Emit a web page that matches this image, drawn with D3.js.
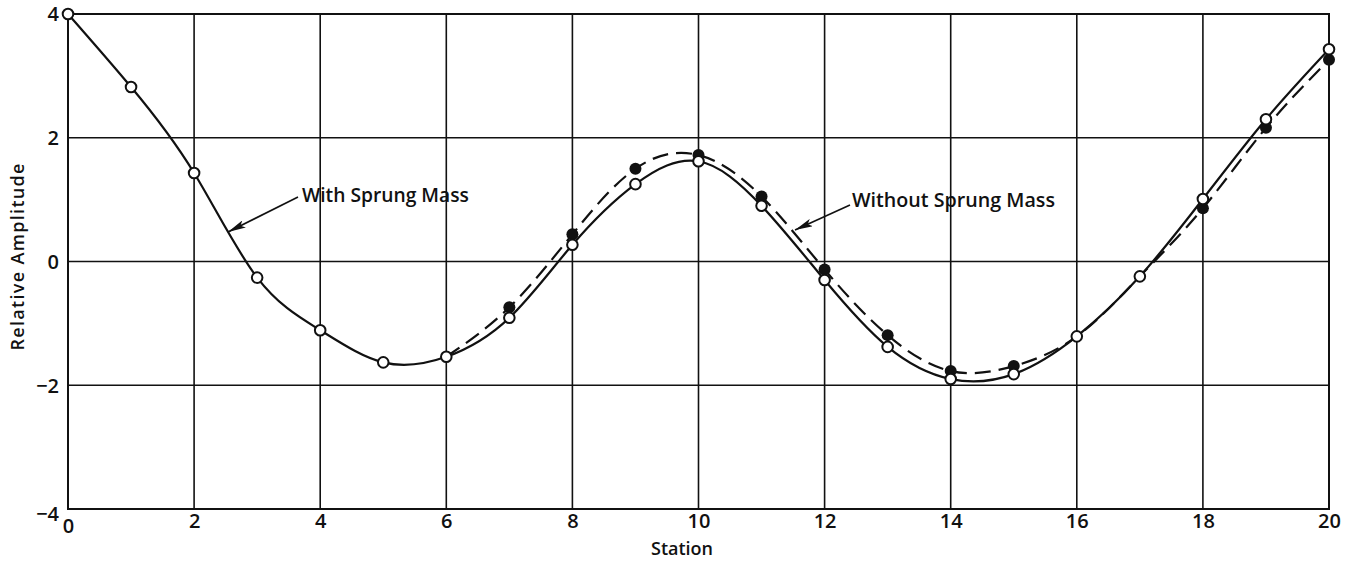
<!DOCTYPE html>
<html>
<head>
<meta charset="utf-8">
<script src="https://cdn.jsdelivr.net/npm/d3@7"></script>
<style>
  html, body { margin: 0; padding: 0; background: #fff; }
  svg { display: block; }
  text { font-family: "Open Sans", "DejaVu Sans", sans-serif; font-weight: 600; fill: #111; }
</style>
</head>
<body>
<svg id="chart" width="1359" height="563"></svg>
<script>
// Station numbers along the beam
const stations = [0, 1, 2, 3, 4, 5, 6, 7, 8, 9, 10, 11, 12, 13, 14, 15, 16, 17, 18, 19, 20];

// Relative amplitude with sprung mass (open circles, solid curve)
const withSprung = [4.0, 2.82, 1.43, -0.26, -1.11, -1.63, -1.54, -0.91, 0.27, 1.25, 1.62,
                    0.9, -0.3, -1.38, -1.9, -1.82, -1.21, -0.24, 1.01, 2.3, 3.43];

// Relative amplitude without sprung mass (filled circles, dashed curve)
const withoutStations = [7, 8, 9, 10, 11, 12, 13, 14, 15, 18, 19, 20];
const withoutSprung = [-0.74, 0.44, 1.5, 1.72, 1.05, -0.13, -1.19, -1.77, -1.69, 0.86, 2.16, 3.26];

const xTicks = [0, 2, 4, 6, 8, 10, 12, 14, 16, 18, 20];
const yTicks = [-4, -2, 0, 2, 4];

const svg = d3.select("#chart");
const plotL = 68, plotR = 1329, plotT = 14, plotB = 509;

const x = d3.scaleLinear().domain([0, 20]).range([plotL, plotR]);
const y = d3.scaleLinear().domain([-4, 4]).range([plotB, plotT]);

// Grid lines
const grid = svg.append("g").attr("stroke", "#111").attr("stroke-width", 1.6);
grid.selectAll(".vx").data(xTicks).join("line")
  .attr("x1", d => x(d)).attr("x2", d => x(d))
  .attr("y1", plotT).attr("y2", plotB);
grid.selectAll(".hy").data(yTicks).join("line")
  .attr("x1", plotL).attr("x2", plotR)
  .attr("y1", d => y(d)).attr("y2", d => y(d));
svg.append("rect")
  .attr("x", plotL).attr("y", plotT)
  .attr("width", plotR - plotL).attr("height", plotB - plotT)
  .attr("fill", "none").attr("stroke", "#111").attr("stroke-width", 2);

// Tick labels via axes
const xAxis = svg.append("g")
  .attr("transform", `translate(0,${plotB})`)
  .call(d3.axisBottom(x).tickValues(xTicks).tickSize(0).tickPadding(5).tickFormat(d3.format("d")));
xAxis.select(".domain").remove();
xAxis.selectAll("text").style("font-size", "20px").attr("fill", "#111")
  .attr("dy", d => d === 0 ? "0.95em" : "0.71em");

const yAxis = svg.append("g")
  .attr("transform", `translate(${plotL},0)`)
  .call(d3.axisLeft(y).tickValues(yTicks).tickSize(0).tickPadding(9).tickFormat(d3.format("d")));
yAxis.select(".domain").remove();
yAxis.selectAll("text").style("font-size", "20px").attr("fill", "#111")
  .attr("dy", d => d === -4 ? "0.55em" : "0.34em");

// Axis titles
svg.append("text")
  .attr("x", 682).attr("y", 555)
  .attr("text-anchor", "middle")
  .style("font-size", "18px")
  .text("Station");
svg.append("text")
  .attr("transform", "translate(24,257) rotate(-90)")
  .attr("text-anchor", "middle")
  .style("font-size", "18px")
  .attr("textLength", 187)
  .text("Relative Amplitude");

// Curves
const line = d3.line()
  .x(d => x(d[0])).y(d => y(d[1]))
  .curve(d3.curveNatural);

const solidPts = stations.map((s, i) => [s, withSprung[i]]);
// Dashed curve leaves the solid one at station 6 and rejoins it around 16-17
const dashedPts = stations.filter(s => s >= 6).map(s => {
  const k = withoutStations.indexOf(s);
  return [s, k >= 0 ? withoutSprung[k] : withSprung[stations.indexOf(s)]];
});

svg.append("path").datum(dashedPts)
  .attr("d", line).attr("fill", "none")
  .attr("stroke", "#111").attr("stroke-width", 2.2)
  .attr("stroke-dasharray", "16,8");

svg.append("path").datum(solidPts)
  .attr("d", line).attr("fill", "none")
  .attr("stroke", "#111").attr("stroke-width", 2.2);

// Points
svg.append("g").selectAll("circle")
  .data(withoutStations.map((s, i) => [s, withoutSprung[i]]))
  .join("circle")
  .attr("cx", d => x(d[0])).attr("cy", d => y(d[1]))
  .attr("r", 6).attr("fill", "#111");

svg.append("g").selectAll("circle")
  .data(solidPts)
  .join("circle")
  .attr("cx", d => x(d[0])).attr("cy", d => y(d[1]))
  .attr("r", 5.3).attr("fill", "#fff")
  .attr("stroke", "#111").attr("stroke-width", 2);

// Annotation arrows
const defs = svg.append("defs");
defs.append("marker")
  .attr("id", "arrow")
  .attr("markerUnits", "userSpaceOnUse")
  .attr("viewBox", "0 0 18 8")
  .attr("refX", 18).attr("refY", 4)
  .attr("markerWidth", 18).attr("markerHeight", 8)
  .attr("orient", "auto")
  .append("path").attr("d", "M0,0 L18,4 L0,8 L4,4 Z").attr("fill", "#111");

const notes = [
  { text: "With Sprung Mass", tx: 302, ty: 202, len: 167, from: [298, 197], to: [228, 232] },
  { text: "Without Sprung Mass", tx: 852, ty: 207, len: 203, from: [850, 205], to: [795, 230] }
];
notes.forEach(n => {
  svg.append("line")
    .attr("x1", n.from[0]).attr("y1", n.from[1])
    .attr("x2", n.to[0]).attr("y2", n.to[1])
    .attr("stroke", "#111").attr("stroke-width", 1.6)
    .attr("marker-end", "url(#arrow)");
  svg.append("text")
    .attr("x", n.tx).attr("y", n.ty)
    .style("font-size", "20px")
    .attr("textLength", n.len)
    .attr("lengthAdjust", "spacingAndGlyphs")
    .text(n.text);
});
</script>
</body>
</html>
